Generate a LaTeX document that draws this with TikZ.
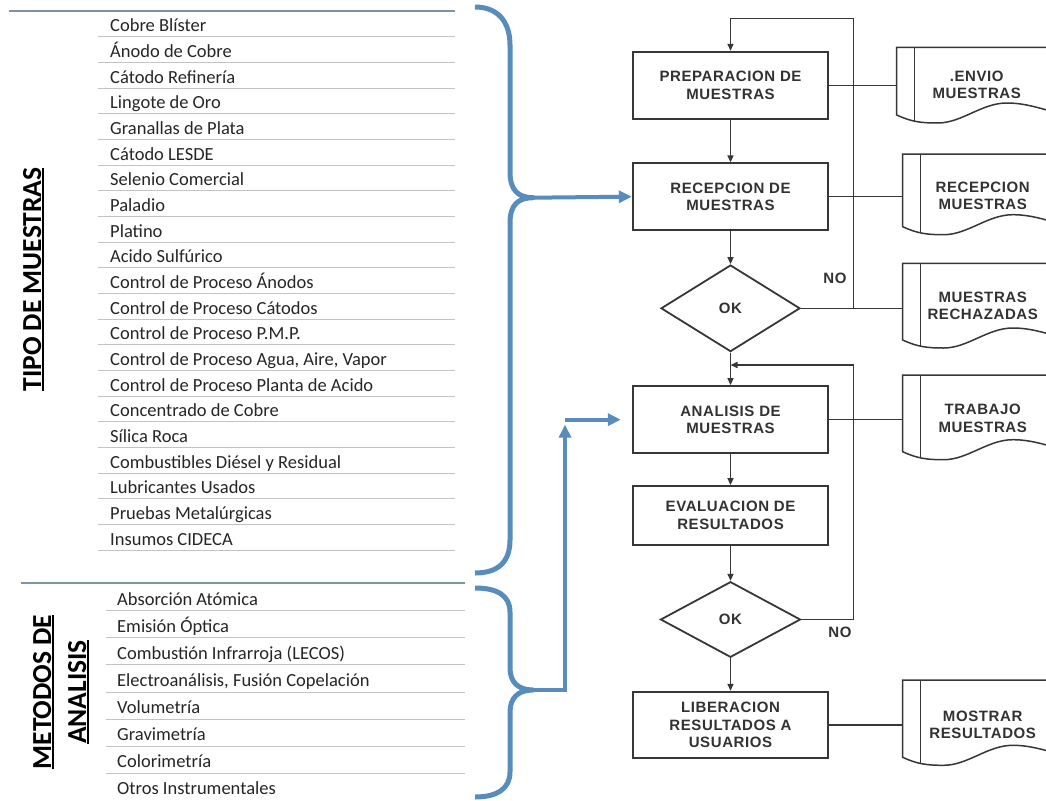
\documentclass[tikz,border=0pt]{standalone}
\usepackage{fontspec}
\setmainfont{Carlito}
\newfontfamily\flowfont[LetterSpace=4]{Liberation Sans}
\usetikzlibrary{arrows.meta,shapes.geometric}

\definecolor{itemtext}{RGB}{38,38,38}
\definecolor{sepgray}{RGB}{195,195,195}
\definecolor{headline}{RGB}{125,148,163}
\definecolor{bracecol}{RGB}{88,140,189}
\definecolor{flowline}{RGB}{55,55,55}
\definecolor{flowtext}{RGB}{50,50,50}

% underlined heading text with a heavier rule
\newcommand\ulabel[1]{\setbox0\hbox{#1}\rlap{\rule[-3pt]{\wd0}{1.8pt}}\box0}

% document symbol: #1 left x, #2 top y, #3 y where the left edge meets the wavy bottom
\newcommand\docoutline[3]{%
  \draw[docline] (#1+175,#2) -- (#1,#2) -- (#1,#3)
    .. controls (#1+15,#3+7) and (#1+25,#3+8) .. (#1+41,#3+8)
    .. controls (#1+65,#3+8) and (#1+85,#3-12) .. (#1+110,#3-12)
    .. controls (#1+130,#3-12) and (#1+145,#3-6) .. (#1+175,#3+2);
  \draw[docline] (#1+18,#2) -- (#1+18,#3+5.5);
}

\begin{document}
\begin{tikzpicture}[x=1pt,y=-1pt,
  item/.style={anchor=base west,inner sep=0pt,text=itemtext,font=\fontsize{18.5}{20}\selectfont},
  sepline/.style={draw=sepgray,line width=0.9pt},
  headrule/.style={draw=headline,line width=1.8pt},
  side/.style={rotate=90,anchor=base,inner sep=0pt,text=black,font=\fontsize{27.5}{30}\selectfont\bfseries},
  brace/.style={draw=bracecol,line width=5pt,line join=round},
  bluearrow/.style={draw=bracecol,line width=4pt,-{Triangle[length=13pt,width=12pt]}},
  flowfnt/.style={font=\flowfont\bfseries\fontsize{15}{17.5}\selectfont,text=flowtext},
  proc/.style={flowfnt,draw=flowline,line width=1.8pt,minimum width=195.6pt,align=center,inner sep=0pt},
  decision/.style={flowfnt,diamond,draw=flowline,line width=1.8pt,minimum width=139pt,inner sep=0pt},
  docnode/.style={flowfnt,minimum width=160pt,align=center,inner sep=0pt},
  docline/.style={draw=flowline,line width=1.5pt},
  flow/.style={draw=flowline,line width=1.5pt},
  flowarrow/.style={flow,-{Triangle[length=7pt,width=6pt]}},
  nolabel/.style={flowfnt}
]
\clip (0,0) rectangle (1046,800);
\fill[white] (0,0) rectangle (1046,800);

% ---------- sample types ----------
\draw[headrule] (9,11) -- (455,11);
\foreach \t [count=\i] in {Cobre Blíster, Ánodo de Cobre, Cátodo Refinería, Lingote de Oro,
  Granallas de Plata, Cátodo LESDE, Selenio Comercial, Paladio, Platino, Acido Sulfúrico,
  Control de Proceso Ánodos, Control de Proceso Cátodos, Control de Proceso P.M.P.,
  {Control de Proceso Agua, Aire, Vapor}, Control de Proceso Planta de Acido,
  Concentrado de Cobre, Sílica Roca, Combustibles Diésel y Residual, Lubricantes Usados,
  Pruebas Metalúrgicas, Insumos CIDECA}
{
  \node[item] (s\i) at (110,{31.7+25.67*(\i-1)}) {\t};
  \draw[sepline] (98,{36.7+25.67*(\i-1)}) -- (455,{36.7+25.67*(\i-1)});
}
\node[side] (tipo) at (41,279.5) {\ulabel{TIPO DE MUESTRAS}};

% ---------- analysis methods ----------
\draw[headrule] (21,583.3) -- (465,583.3);
\foreach \t [count=\i] in {Absorción Atómica, Emisión Óptica, Combustión Infrarroja (LECOS),
  {Electroanálisis, Fusión Copelación}, Volumetría, Gravimetría, Colorimetría,
  Otros Instrumentales}
{
  \node[item] (m\i) at (117,{605+27.1*(\i-1)}) {\t};
}
\foreach \i in {1,...,7}{
  \draw[sepline] (106,{610.7+27.1*(\i-1)}) -- (465,{610.7+27.1*(\i-1)});
}
\node[side] (metodosA) at (51,692) {\ulabel{METODOS DE}};
\node[side] (metodosB) at (86,692) {\ulabel{ANALISIS}};

% ---------- braces ----------
\coordinate (uptip) at (533,197.7);
\coordinate (lowtip) at (533,690);
\draw[brace] (475,7) .. controls (498,7) and (510,22) .. (510,45) -- (510,172)
  .. controls (510,190) and (518,197.7) .. (uptip)
  .. controls (518,197.7) and (510,205) .. (510,223) -- (510,540)
  .. controls (510,562) and (498,573) .. (475,573);
\draw[brace] (475,588) .. controls (498,588) and (510,596) .. (510,612) -- (510,668)
  .. controls (510,682) and (518,690) .. (lowtip)
  .. controls (518,690) and (510,698) .. (510,712) -- (510,772)
  .. controls (510,788) and (498,797) .. (475,797);

% ---------- process ----------
\node[proc,minimum height=67.3pt] (prep) at (730.5,85.35) {PREPARACION DE\\MUESTRAS};
\node[proc,minimum height=66.7pt] (recep) at (730.5,196.65) {RECEPCION DE\\MUESTRAS};
\node[decision,minimum height=86.6pt] (ok1) at (730.5,308.3) {OK};
\node[proc,minimum height=67.3pt] (anal) at (730.5,419.65) {ANALISIS DE\\MUESTRAS};
\node[proc,minimum height=59pt] (eval) at (730.5,515.5) {EVALUACION DE\\RESULTADOS};
\node[decision,minimum width=140pt,minimum height=75.6pt] (ok2) at (730.5,619.5) {OK};
\node[proc,minimum height=66.6pt] (lib) at (730.5,725) {LIBERACION\\RESULTADOS A\\USUARIOS};

% documents
\docoutline{896.7}{47.5}{115}
\docoutline{902.7}{154}{226.7}
\docoutline{902.7}{263.3}{340}
\docoutline{902.7}{375}{451.7}
\docoutline{902.7}{680}{757.3}
\node[docnode] (envio) at (976.7,85) {.ENVIO\\MUESTRAS};
\node[docnode] (recdoc) at (982.7,196) {RECEPCION\\MUESTRAS};
\node[docnode] (rech) at (982.7,306) {MUESTRAS\\RECHAZADAS};
\node[docnode] (trab) at (982.7,418.3) {TRABAJO\\MUESTRAS};
\node[docnode] (most) at (982.7,725) {MOSTRAR\\RESULTADOS};

% connectors
\coordinate (j1) at (853.3,308.3);
\coordinate (loop1) at (853.3,18.3);
\coordinate (loop2) at (853.3,365);
\draw[flowarrow] (prep) -- (recep);
\draw[flowarrow] (recep) -- (ok1);
\draw[flowarrow] (ok1) -- (anal);
\draw[flowarrow] (anal) -- (eval);
\draw[flowarrow] (eval) -- (ok2);
\draw[flowarrow] (ok2) -- (lib);
\draw[flow] (prep.east) -- (prep.east -| envio.west);
\draw[flow] (recep.east) -- (recep.east -| recdoc.west);
\draw[flow] (ok1.east) -- (ok1.east -| rech.west);
\draw[flow] (anal.east) -- (anal.east -| trab.west);
\draw[flow] (lib.east) -- (lib.east -| most.west);
\draw[flowarrow] (j1) -- (loop1) -| (prep.north);
\draw[flowarrow] (ok2.east) -- (ok2.east -| loop2) -- (loop2) -- (loop2 -| ok1.south);
\node[nolabel] (no1) at (835,278) {NO};
\node[nolabel] (no2) at (840,632.7) {NO};

% ---------- blue inputs ----------
\coordinate (turn) at (565,419.65);
\draw[bluearrow] (uptip) -- (recep.west);
\draw[bluearrow,shorten >=5pt] (lowtip) -| (turn);
\draw[bluearrow,shorten >=11pt] (turn) -- (anal.west);
\end{tikzpicture}
\end{document}
